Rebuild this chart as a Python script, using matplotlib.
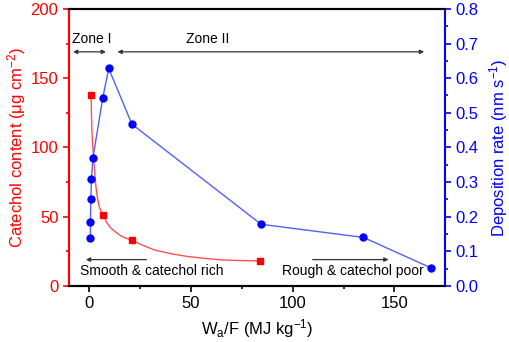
import matplotlib.pyplot as plt

plt.rcParams['font.family'] = ['Liberation Sans', 'DejaVu Sans']
plt.rcParams['mathtext.fontset'] = 'custom'
plt.rcParams['mathtext.rm'] = 'Liberation Sans'
plt.rcParams['mathtext.it'] = 'Liberation Sans:italic'

# catechol content (left axis)
red_x = [0.9, 6.8, 21, 84]
red_y = [138, 51, 33, 18]
# fitted curve
fit_x = [0.9, 1.1, 1.3, 1.7, 2.2, 2.7, 3.3, 4.0, 4.9, 5.8, 6.9, 8.5, 10.7,
         12.5, 15.6, 18, 21, 26, 32, 40, 48.4, 56, 64.8, 72, 84]
fit_y = [138, 125, 112.6, 102, 93.4, 82, 71.7, 64, 57.3, 54, 51.3, 46, 41.7,
         39.5, 36.1, 34.5, 33, 29.5, 26, 23.3, 21.2, 20, 18.8, 18.4, 18]

# deposition rate (right axis)
blue_x = [0.6, 0.6, 0.8, 1.1, 1.8, 6.7, 9.6, 21, 84.5, 134.8, 168]
blue_y = [0.138, 0.184, 0.25, 0.309, 0.368, 0.544, 0.628, 0.467, 0.178, 0.14, 0.052]

RED = '#ff0000'
BLUE = '#0000ff'

fig = plt.figure(figsize=(5.1, 3.42), dpi=100)
ax = fig.add_axes([0.135, 0.164, 0.738, 0.81])
ax2 = ax.twinx()

ax.plot(fit_x, fit_y, color='#ff5050', lw=1)
ax.plot(red_x, red_y, 's', color=RED, ms=4.5)
ax2.plot(blue_x, blue_y, '-o', color='#5060ff', lw=1, mfc=BLUE, mec=BLUE, ms=5)

ax.set_xlim(-10, 175)
ax.set_ylim(0, 200)
ax2.set_ylim(0, 0.8)
ax.set_xticks([0, 50, 100, 150])
ax.set_xticks([25, 75, 125], minor=True)
ax.set_yticks([0, 50, 100, 150, 200])
ax.set_yticks([25, 75, 125, 175], minor=True)
ax2.set_yticks([0, 0.1, 0.2, 0.3, 0.4, 0.5, 0.6, 0.7, 0.8])
ax2.set_yticks([0.05, 0.15, 0.25, 0.35, 0.45, 0.55, 0.65, 0.75], minor=True)
ax2.set_yticklabels(['0.0', '0.1', '0.2', '0.3', '0.4', '0.5', '0.6', '0.7', '0.8'])

ax.spines['left'].set_color(RED)
ax2.spines['left'].set_color(RED)
ax2.spines['right'].set_color(BLUE)
ax.spines['right'].set_visible(False)
for a in (ax, ax2):
    for s in ('left', 'right', 'top', 'bottom'):
        a.spines[s].set_linewidth(1.5)

ax.tick_params(axis='y', which='both', colors=RED, labelsize=12, width=1.2)
ax.tick_params(axis='y', which='major', length=4)
ax.tick_params(axis='y', which='minor', length=2.5)
ax2.tick_params(axis='y', which='both', colors=BLUE, labelsize=12, width=1.2)
ax2.tick_params(axis='y', which='major', length=4)
ax2.tick_params(axis='y', which='minor', length=2.5)
ax.tick_params(axis='x', which='major', labelsize=12, length=4, width=1.2)
ax.tick_params(axis='x', which='minor', length=2.5, width=1.2)

ax.set_ylabel('Catechol content (μg cm$^{-2}$)', color=RED, fontsize=12, labelpad=2)
ax2.set_ylabel('Deposition rate (nm s$^{-1}$)', color=BLUE, fontsize=12, labelpad=6)
ax.set_xlabel('W$_{\\mathrm{a}}$/F (MJ kg$^{-1}$)', fontsize=12, labelpad=4)

# zone annotations
ax.text(1.5, 178, 'Zone I', ha='center', va='center', fontsize=10)
ax.text(58, 178, 'Zone II', ha='center', va='center', fontsize=10)
ap = dict(arrowstyle='<|-|>', color='#333333', lw=0.9, mutation_scale=6)
ax.annotate('', xy=(-9.3, 169), xytext=(9.6, 169), arrowprops=ap)
ax.annotate('', xy=(12.5, 169), xytext=(166, 169), arrowprops=ap)
ap1 = dict(arrowstyle='-|>', color='#333333', lw=0.9, mutation_scale=6)
ax.annotate('', xy=(-3, 19), xytext=(29.5, 19), arrowprops=ap1)
ax.annotate('', xy=(148.5, 19), xytext=(108.5, 19), arrowprops=ap1)
ax.text(-4.5, 10.5, 'Smooth & catechol rich', ha='left', va='center', fontsize=10)
ax.text(95, 10.5, 'Rough & catechol poor', ha='left', va='center', fontsize=10)

fig.savefig('out.png', dpi=100)
